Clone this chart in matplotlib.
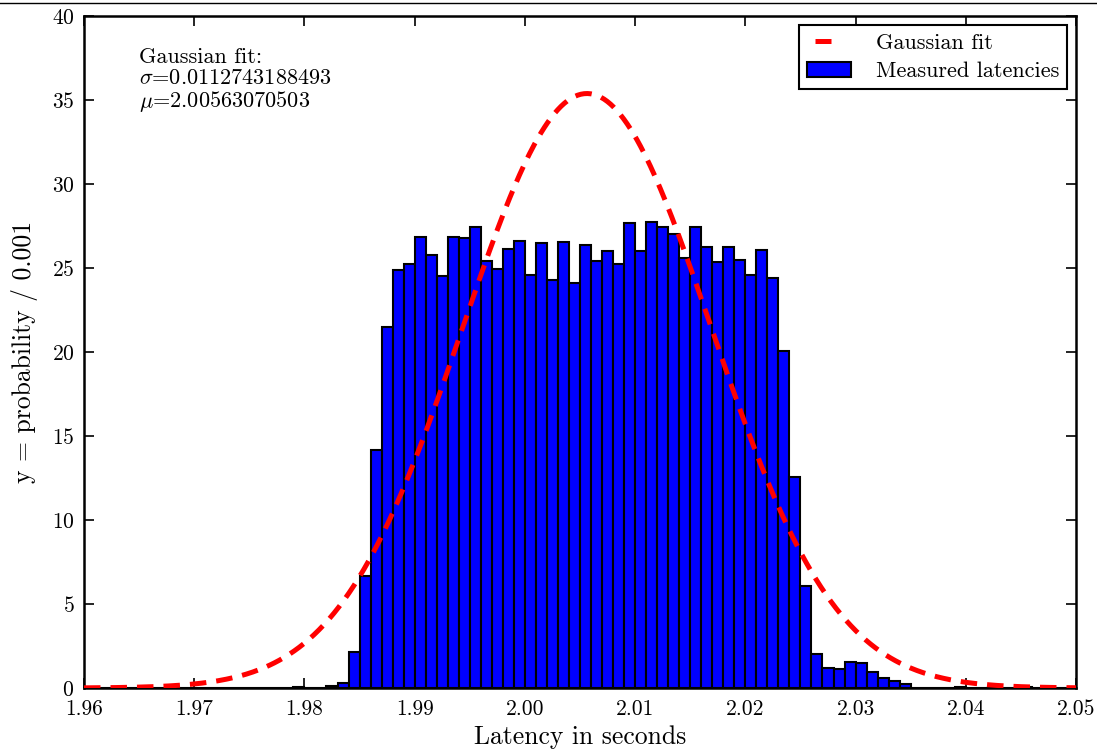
import numpy as np
import matplotlib
matplotlib.use("Agg")
import matplotlib.pyplot as plt
from matplotlib.lines import Line2D
from matplotlib.patches import Patch
from matplotlib.ticker import FormatStrFormatter, MultipleLocator

# histogram: bins of 1 ms from 1.960 s, height = probability / 0.001
bin_start = 1.960
bin_width = 0.001
heights = [
    0, 0, 0, 0, 0, 0, 0, 0, 0, 0, 0, 0, 0, 0, 0, 0, 0, 0, 0,
    0.06, 0, 0,
    0.12, 0.32, 2.12, 6.67, 14.17, 21.5, 24.88, 25.26, 26.87, 25.8,
    24.55, 26.87, 26.8, 27.44, 25.4, 24.92,
    26.15, 26.6, 24.56, 26.47, 24.26, 26.57, 24.13, 26.35, 25.4, 25.99,
    25.24, 27.66, 26.01, 27.74, 27.44, 27.02, 25.61, 27.44, 26.25, 25.36,
    26.25, 25.5, 24.56, 26.09, 24.38,
    20.06, 12.54, 6.05, 2.0, 1.17, 1.13, 1.57, 1.47, 0.93, 0.58, 0.44, 0.22,
    0, 0, 0, 0, 0.06, 0, 0, 0.05, 0, 0, 0.05, 0, 0, 0, 0,
]

# gaussian fit parameters (from the annotation)
sigma = 0.0112743188493
mu = 2.00563070503

x_ticks = [1.96, 1.97, 1.98, 1.99, 2.00, 2.01, 2.02, 2.03, 2.04, 2.05]

plt.rcParams["font.family"] = "serif"
plt.rcParams["font.serif"] = ["cmr10", "DejaVu Serif"]
plt.rcParams["mathtext.fontset"] = "cm"
plt.rcParams["axes.formatter.use_mathtext"] = True
plt.rcParams["axes.unicode_minus"] = False

fig = plt.figure(figsize=(10.97, 7.52), dpi=100)
ax = fig.add_axes([84 / 1097, 1 - 688 / 752, 992 / 1097, 672 / 752])

lefts = bin_start + bin_width * np.arange(len(heights))
ax.bar(lefts, heights, width=bin_width, align="edge", color="#0000ff",
       edgecolor="black", linewidth=1.5, zorder=2)

xs = np.linspace(1.96, 2.05, 600)
pdf = np.exp(-0.5 * ((xs - mu) / sigma) ** 2) / (sigma * np.sqrt(2 * np.pi))
ax.plot(xs, pdf, color="#ff0000", linewidth=3.6,
        linestyle=(0, (3.3, 2.0)), zorder=3)

ax.set_xlim(1.96, 2.05)
ax.set_ylim(0, 40)
ax.set_xticks(x_ticks)
ax.xaxis.set_major_formatter(FormatStrFormatter("%.2f"))
ax.yaxis.set_major_locator(MultipleLocator(5))
ax.tick_params(direction="in", top=True, right=True, length=7, width=1.2,
               labelsize=15.5)
ax.tick_params(axis="x", pad=8)
ax.tick_params(axis="y", pad=7)
for s in ax.spines.values():
    s.set_linewidth(1.8)

ax.set_xlabel("Latency in seconds", fontsize=18.5, labelpad=5)
ax.set_ylabel("y = probability / 0.001", fontsize=18.5, labelpad=10)

ax.text(0.055, 0.953,
        "Gaussian fit:\n$\\sigma$=0.0112743188493\n$\\mu$=2.00563070503",
        transform=ax.transAxes, ha="left", va="top", fontsize=16,
        linespacing=1.08)

# legend proxies: a single short dash for the fit line
fit_handle = Line2D([], [], color="#ff0000", linewidth=3.6,
                    linestyle=(21.6, (3.2, 20.0)))
bar_handle = Patch(facecolor="#0000ff", edgecolor="black", linewidth=1.5)
leg = ax.legend([fit_handle, bar_handle], ["Gaussian fit", "Measured latencies"],
                loc="upper right", fontsize=16, fancybox=False,
                edgecolor="black", framealpha=1, handlelength=2.0,
                borderaxespad=0.42, borderpad=0.35, labelspacing=0.4,
                handletextpad=1.1)
leg.get_frame().set_linewidth(1.5)

# thin rule along the top of the figure
fig.add_artist(Line2D([0, 1], [1 - 3 / 752, 1 - 3 / 752], color="black",
                      linewidth=1.0, transform=fig.transFigure))

fig.savefig("out.png", dpi=100)
